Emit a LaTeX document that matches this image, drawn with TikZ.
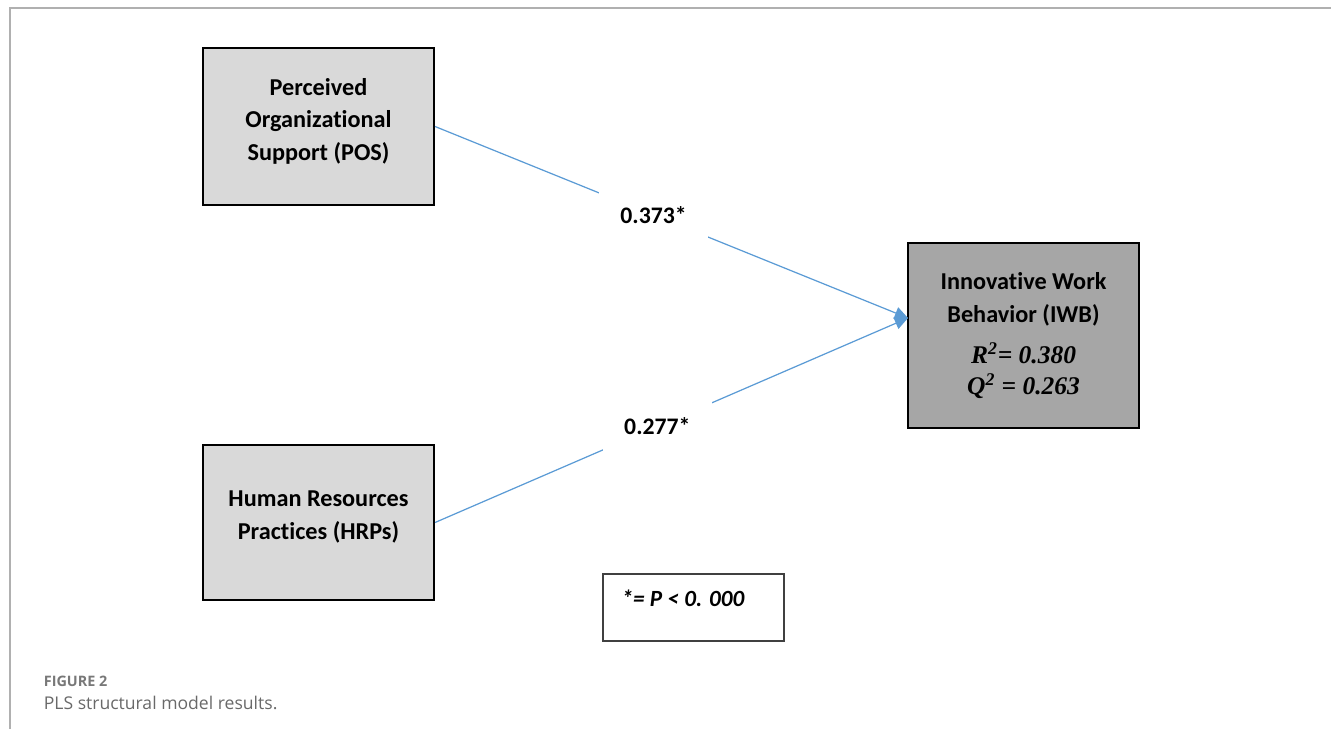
\documentclass[tikz,border=0pt]{standalone}
\usepackage{fontspec}
\usetikzlibrary{arrows.meta}
\newfontfamily\carlito{Carlito}[Ligatures=NoCommon]
\newfontfamily\timesbi{Liberation Serif}
\newfontfamily\capfont{Open Sans}
\definecolor{pathblue}{RGB}{91,155,213}
\definecolor{lightbox}{RGB}{217,217,217}
\definecolor{darkbox}{RGB}{166,166,166}
\definecolor{framegray}{RGB}{176,176,176}
\definecolor{capgray}{RGB}{105,105,105}
\newcommand{\sq}[1]{#1\textsuperscript{2}}
\tikzset{
	construct/.style={draw=black,line width=1.2pt,minimum width=4.62cm,inner sep=0pt},
	boxtext/.style={align=center,inner sep=0pt,font=\carlito\bfseries\fontsize{13.8}{18.5}\selectfont},
	fittext/.style={align=center,inner sep=0pt,font=\timesbi\bfseries\itshape\fontsize{14.5}{17.6}\selectfont},
	coef/.style={fill=white,inner xsep=12pt,inner ysep=9pt,font=\carlito\bfseries\fontsize{13.5}{15}\selectfont},
	path/.style={draw=pathblue,line width=0.7pt,-{Triangle[length=7.5pt,width=7pt]}}
}
\begin{document}
\begin{tikzpicture}
	\useasboundingbox (0,0) rectangle (26.62,-14.58);
	\draw[framegray,line width=0.6pt] (0.2,-14.58) -- (0.2,-0.16) -- (26.62,-0.16);
	\node[construct,fill=lightbox,minimum height=3.14cm] (pos) at (6.37,-2.53) {};
	\node[construct,fill=lightbox,minimum height=3.10cm] (hrp) at (6.37,-10.45) {};
	\node[construct,fill=darkbox,minimum height=3.70cm] (iwb) at (20.47,-6.71) {};
	\node[boxtext] (postext) at (6.37,-2.42) {Perceived\\Organizational\\Support (POS)};
	\node[boxtext] (hrptext) at (6.37,-10.34) {Human Resources\\Practices (HRPs)};
	\node[boxtext] (iwbtext) at (20.47,-5.99) {Innovative Work\\Behavior (IWB)};
	\node[fittext] (fit) at (20.47,-7.41) {\sq{R}= 0.380\\\sq{Q} = 0.263};
	\coordinate (tip) at (18.16,-6.36);
	\draw[path] (pos.east) to node[coef,pos=0.462] (b1) {0.373*} (tip);
	\draw[path] (hrp.east) to node[coef,pos=0.47] (b2) {0.277*} (tip);
	\node[draw=black!75,line width=0.6pt,minimum width=3.62cm,minimum height=1.34cm] (key) at (13.87,-12.15) {};
	\node[inner sep=0pt,font=\carlito\bfseries\itshape\fontsize{13.2}{15}\selectfont] (keytext) at (13.66,-11.96) {*= P < 0. 000};
	\node[anchor=base west,inner sep=0pt,text=capgray!90,font=\capfont\bfseries\fontsize{8.2}{9}\selectfont] (fig) at (0.87,-13.72) {FIGURE 2};
	\node[anchor=base west,inner sep=0pt,text=capgray,font=\capfont\fontsize{10}{11}\selectfont] (cap) at (0.87,-14.19) {PLS structural model results.};
\end{tikzpicture}
\end{document}
